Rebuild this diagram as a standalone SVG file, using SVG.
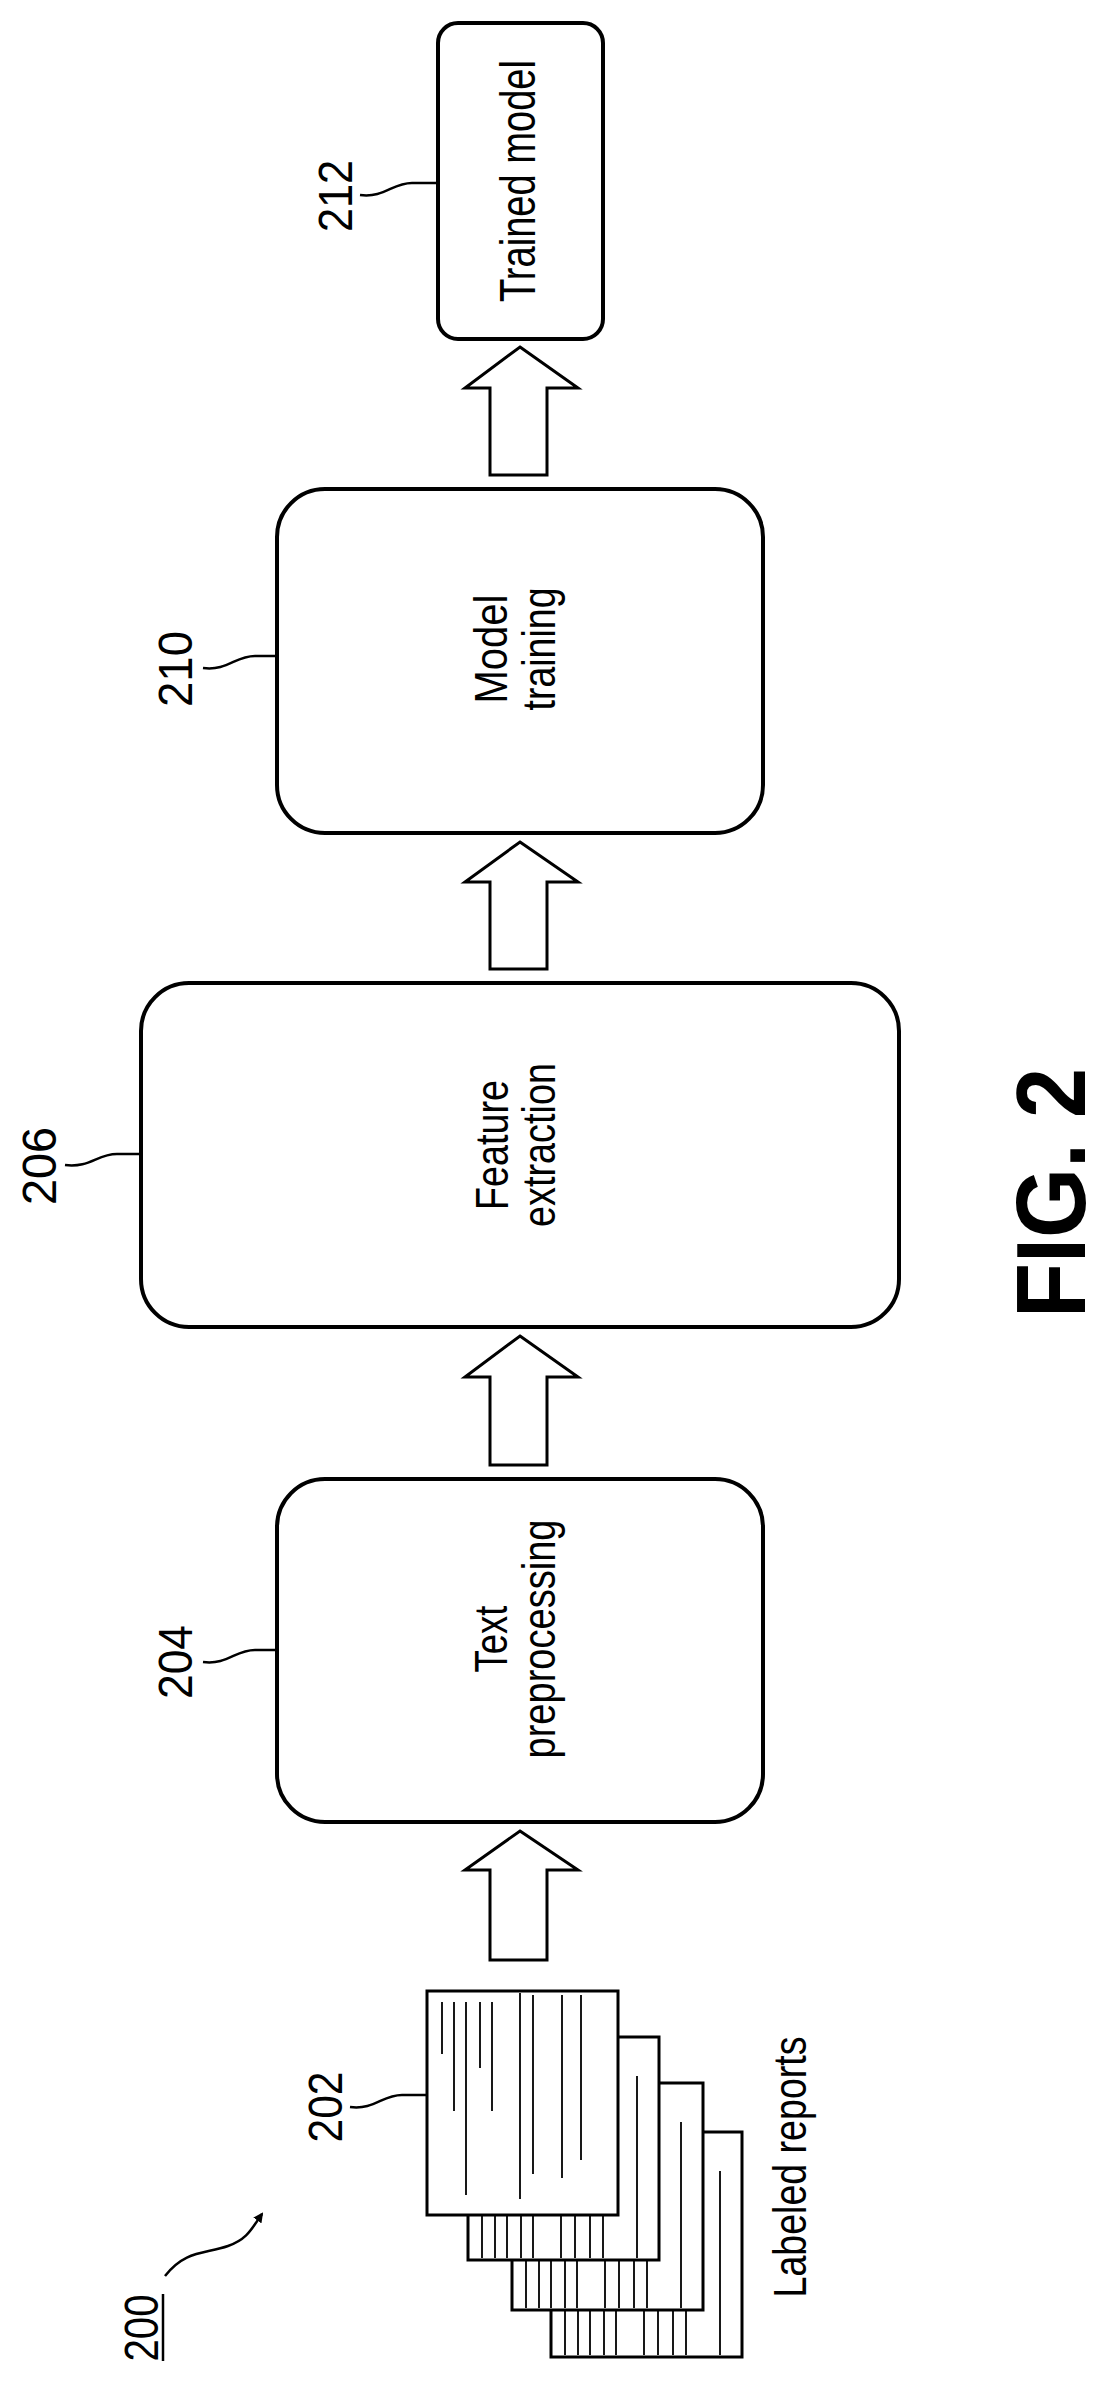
<svg xmlns="http://www.w3.org/2000/svg" width="1106" height="2386" viewBox="0 0 1106 2386">
<style>
.box{fill:#fff;stroke:#000;stroke-width:4}
.arr{fill:#fff;stroke:#000;stroke-width:3;stroke-linejoin:miter}
.ld{fill:none;stroke:#000;stroke-width:2.5}
.pg{fill:#fff;stroke:#000;stroke-width:3}
.ln{stroke:#000;stroke-width:1.8}
text{font-family:"Liberation Sans",Arial,sans-serif;fill:#000}
.t{font-size:46px;text-anchor:middle}
.n{font-size:48px;text-anchor:middle}
</style>
<defs>
<marker id="ah" markerWidth="10" markerHeight="10" refX="8" refY="5" orient="auto" markerUnits="userSpaceOnUse" viewBox="0 0 10 10"><path d="M0,0 L10,5 L0,10 Z"/></marker>
</defs>
<g id="connectors">
<path class="arr" d="M520,347 L578,388 L547,388 L547,475 L490,475 L490,388 L465,388 Z"/>
<path class="arr" d="M520,842 L578,882 L547,882 L547,969 L490,969 L490,882 L465,882 Z"/>
<path class="arr" d="M520,1336 L578,1377 L547,1377 L547,1465 L490,1465 L490,1377 L465,1377 Z"/>
<path class="arr" d="M520,1831 L578,1870 L547,1870 L547,1960 L490,1960 L490,1870 L465,1870 Z"/>
<path class="ld" d="M360,195 C385,198 392,183 412,183 L437,183"/>
<path class="ld" d="M203,668 C228,671 235,656 255,656 L277,656"/>
<path class="ld" d="M65,1165 C90,1168 97,1154 117,1154 L141,1154"/>
<path class="ld" d="M203,1662 C228,1665 235,1650 255,1650 L277,1650"/>
<path class="ld" d="M350,2107 C375,2110 382,2095 402,2095 L427,2095"/>
<path class="ld" d="M165,2276 C185,2250 205,2254 228,2246 C248,2239 252,2228 262,2214" marker-end="url(#ah)"/>
</g>
<g id="n212"><rect class="box" x="438" y="23" width="165" height="316" rx="20"/>
<text class="t" transform="translate(535,181) rotate(-90)" textLength="242" lengthAdjust="spacingAndGlyphs" style="font-size:50px">Trained model</text>
<text class="n" transform="translate(352,196) rotate(-90)" textLength="72" lengthAdjust="spacingAndGlyphs">212</text></g>
<g id="n210"><rect class="box" x="277" y="489" width="486" height="344" rx="48"/>
<text class="t" transform="translate(507,649) rotate(-90)" textLength="109" lengthAdjust="spacingAndGlyphs">Model</text>
<text class="t" transform="translate(555,649) rotate(-90)" textLength="123" lengthAdjust="spacingAndGlyphs">training</text>
<text class="n" transform="translate(192,669) rotate(-90)" textLength="76" lengthAdjust="spacingAndGlyphs">210</text></g>
<g id="n206"><rect class="box" x="141" y="983" width="758" height="344" rx="48"/>
<text class="t" transform="translate(508,1145) rotate(-90)" textLength="130" lengthAdjust="spacingAndGlyphs">Feature</text>
<text class="t" transform="translate(555,1145) rotate(-90)" textLength="164" lengthAdjust="spacingAndGlyphs">extraction</text>
<text class="n" transform="translate(56,1166) rotate(-90)" textLength="78" lengthAdjust="spacingAndGlyphs">206</text></g>
<g id="n204"><rect class="box" x="277" y="1479" width="486" height="343" rx="48"/>
<text class="t" transform="translate(507,1639) rotate(-90)" textLength="67" lengthAdjust="spacingAndGlyphs">Text</text>
<text class="t" transform="translate(555,1639) rotate(-90)" textLength="239" lengthAdjust="spacingAndGlyphs">preprocessing</text>
<text class="n" transform="translate(192,1662) rotate(-90)" textLength="74" lengthAdjust="spacingAndGlyphs">204</text></g>
<g id="n202">
<g transform="translate(551,2132)"><rect class="pg" x="0" y="0" width="191" height="225"/>
<path class="ln" d="M14,12V223M27,12V223M39,12V223M53,12V223M65,12V223M93,12V223M107,12V223M122,12V223M135,12V223M169,39V223"/></g>
<g transform="translate(512,2083)"><rect class="pg" x="0" y="0" width="191" height="227"/>
<path class="ln" d="M14,12V225M27,12V225M39,12V225M53,12V225M65,12V225M93,12V225M107,12V225M122,12V225M135,12V225M169,39V225"/></g>
<g transform="translate(468,2037)"><rect class="pg" x="0" y="0" width="191" height="223"/>
<path class="ln" d="M14,12V221M27,12V221M39,12V221M53,12V221M65,12V221M93,12V221M107,12V221M122,12V221M135,12V221M169,39V221"/></g>
<g transform="translate(427,1991)"><rect class="pg" x="0" y="0" width="191" height="224"/>
<path class="ln" d="M15,11V63M27,11V120M39,11V204M53,11V77M65,11V120M93,2V208M106,4V183M135,4V187M154,4V169"/></g>
<text class="n" transform="translate(342,2107) rotate(-90)" textLength="71" lengthAdjust="spacingAndGlyphs">202</text>
<text transform="translate(806,2167) rotate(-90)" style="font-size:46px;text-anchor:middle" textLength="261" lengthAdjust="spacingAndGlyphs">Labeled reports</text>
</g>
<g id="n200">
<text class="n" transform="translate(158,2328) rotate(-90)" textLength="67" lengthAdjust="spacingAndGlyphs">200</text>
<line x1="163" y1="2294" x2="163" y2="2361" stroke="#000" stroke-width="2.5"/>
</g>
<g id="fig"><text transform="translate(1085,1193) rotate(-90)" style="font-size:98px;font-weight:bold;text-anchor:middle" textLength="250" lengthAdjust="spacingAndGlyphs">FIG. 2</text></g>
</svg>
